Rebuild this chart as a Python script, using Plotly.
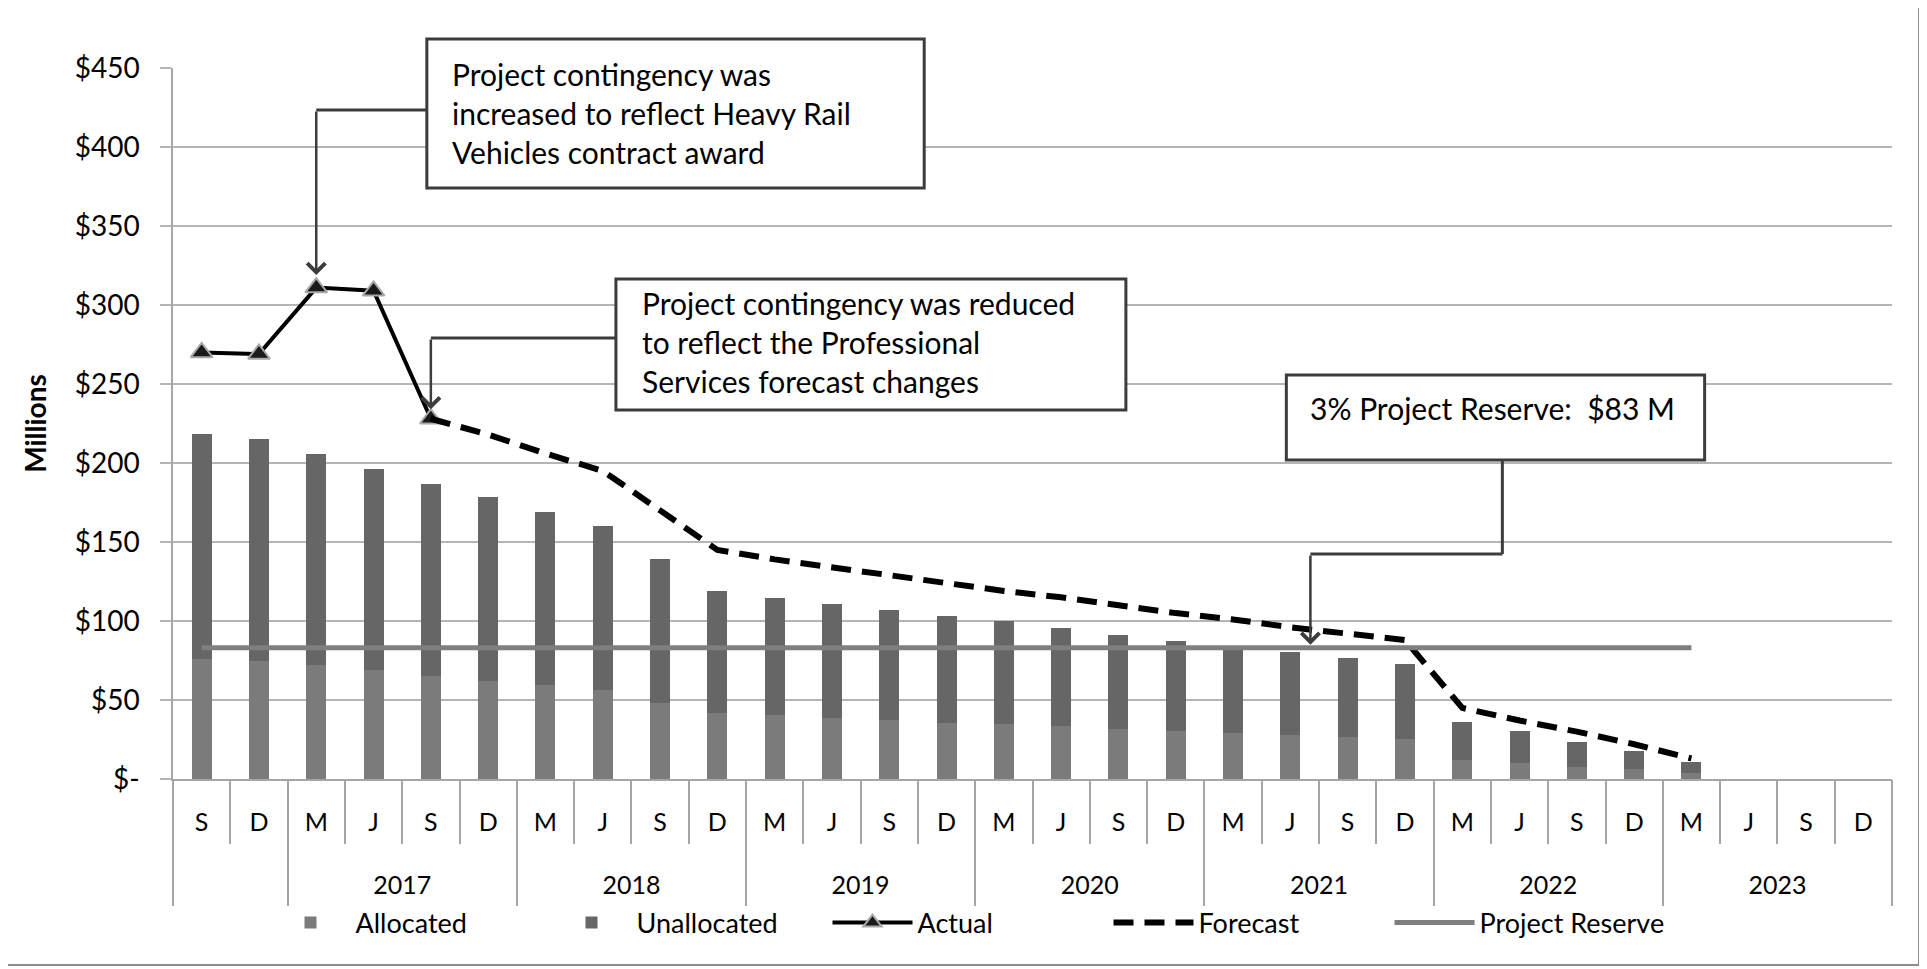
import plotly.graph_objects as go

# ---------------- data ----------------
months = ["S", "D",
          "M", "J", "S", "D",
          "M", "J", "S", "D",
          "M", "J", "S", "D",
          "M", "J", "S", "D",
          "M", "J", "S", "D",
          "M", "J", "S", "D",
          "M", "J", "S", "D"]
years = ["", "",
         "2017", "2017", "2017", "2017",
         "2018", "2018", "2018", "2018",
         "2019", "2019", "2019", "2019",
         "2020", "2020", "2020", "2020",
         "2021", "2021", "2021", "2021",
         "2022", "2022", "2022", "2022",
         "2023", "2023", "2023", "2023"]

allocated = [75.8, 74.8, 72.0, 69.1, 65.3, 62.1, 59.2, 56.2, 48.4, 41.5,
             40.4, 38.8, 37.3, 35.6, 34.5, 33.7, 31.6, 30.5, 28.9, 27.8,
             26.7, 25.1, 12.0, 9.9, 7.8, 6.1, 3.6]
unallocated = [142.6, 140.4, 133.5, 127.4, 121.5, 116.1, 110.1, 103.7, 90.8, 77.3,
               74.4, 72.2, 69.9, 67.6, 65.3, 61.7, 59.8, 57.1, 54.1, 52.4,
               50.0, 47.6, 24.2, 20.4, 15.8, 11.6, 7.1]
actual = [270, 269, 311, 309, 228]            # S, D, M, J, S (first five periods)
forecast = [228, 218, 206, 195, 170, 145, 139, 134, 129, 124, 119, 115,
            110, 105, 101, 96, 92, 88, 45, 37, 30, 22, 13]   # from 5th period on
reserve = [83, 83, 83, 83, 83, 83, 83, 83, 83, 83, 83, 83, 83, 83,
           83, 83, 83, 83, 83, 83, 83, 83, 83, 83, 83, 83, 83]

y_tickvals = [0, 50, 100, 150, 200, 250, 300, 350, 400, 450]
y_ticktext = ["$-", "$50", "$100", "$150", "$200", "$250", "$300", "$350", "$400", "$450"]

# ---------------- derived positions ----------------
n = len(months)
idx = list(range(n))
bar_x = idx[:len(allocated)]
actual_x = idx[:len(actual)]
fc_start = len(actual) - 1
forecast_x = idx[fc_start:fc_start + len(forecast)]
reserve_x = idx[:len(reserve)]

boundaries = [i - 0.5 for i in idx] + [n - 0.5]
year_names, year_centers = [], []
year_bounds = [-0.5]
for i in idx:
    if i > 0 and years[i] != years[i - 1]:
        year_bounds.append(i - 0.5)
year_bounds.append(n - 0.5)
for y in dict.fromkeys(years):
    if y:
        pos = [i for i in idx if years[i] == y]
        year_names.append(y)
        year_centers.append(sum(pos) / len(pos))

FONT = "Lato"
GRID = "#b5b5b5"
AX = "#a6a6a6"
CON = "#3c3c3c"

fig = go.Figure()
fig.add_trace(go.Bar(name="Allocated", x=bar_x, y=allocated,
                     marker=dict(color="#7b7b7b", line=dict(width=0))))
fig.add_trace(go.Bar(name="Unallocated", x=bar_x, y=unallocated,
                     marker=dict(color="#666666", line=dict(width=0))))
fig.add_trace(go.Scatter(name="Actual", x=actual_x, y=actual, mode="lines+markers",
                         xaxis="x2",
                         line=dict(color="black", width=4),
                         marker=dict(symbol="triangle-up", size=19, color="#1a1a1a",
                                     line=dict(color="#a8a8a8", width=2))))
fig.add_trace(go.Scatter(name="Forecast", x=forecast_x, y=forecast, mode="lines",
                         xaxis="x2",
                         line=dict(color="black", width=6, dash="20px,11px")))
fig.add_trace(go.Scatter(name="Project Reserve", x=reserve_x, y=reserve, mode="lines",
                         xaxis="x2",
                         line=dict(color="#7f7f7f", width=5)))

# page is offset by the default 8px body margin
OFF = 8
PAGE_W, PAGE_H = 1927, 969
PL, PR, PT, PB = 173, 1892, 68, 779          # plot box in page pixels
W, H = PAGE_W - OFF, PAGE_H - OFF
L, T = PL - OFF, PT - OFF
R, B = W - (PR - OFF), H - (PB - OFF)


def px2paper_x(px):
    return (px - PL) / (PR - PL)


def px2paper_y(py):
    return (PB - py) / (PB - PT)


shapes = []
# outer frame
shapes.append(dict(type="rect", xref="paper", yref="paper",
                   x0=px2paper_x(7), x1=px2paper_x(1919),
                   y0=px2paper_y(965), y1=px2paper_y(7),
                   line=dict(color="#8c8c8c", width=2), layer="below"))

boxes = [
    # (x0, x1, y0, y1) in data units
    (3.93, 12.61, 374.1, 468.4),
    (7.23, 16.13, 233.5, 316.5),
    (18.93, 26.23, 201.9, 255.7),
]
for (x0, x1, y0, y1) in boxes:
    shapes.append(dict(type="rect", xref="paper", yref="paper",
                       x0=(x0 + 0.5) / n, x1=(x1 + 0.5) / n, y0=y0 / 450, y1=y1 / 450,
                       line=dict(color=CON, width=3), fillcolor="white", layer="above"))

# connector segments
segs = [
    (3.93, 423.4, actual_x[2], 423.4),
    (7.23, 279.1, actual_x[4], 279.1),
    (22.7, 201.9, 22.7, 142.4),
    (22.7, 142.4, 19.35, 142.4),
]
for (x0, y0, x1, y1) in segs:
    shapes.append(dict(type="line", xref="x", yref="y", x0=x0, y0=y0, x1=x1, y1=y1,
                       line=dict(color=CON, width=3), layer="above"))

annotations = []
arrows = [
    (actual_x[2], actual[2] + 8, 423.4),
    (actual_x[4], actual[4] + 6, 279.1),
    (19.35, reserve[0] + 2, 142.4),
]
for (x, y, ay) in arrows:
    annotations.append(dict(x=x, y=y, ax=x, ay=ay, xref="x", yref="y", axref="x", ayref="y",
                            text="", showarrow=True, arrowhead=4, arrowsize=1.4,
                            arrowwidth=2.5, arrowcolor=CON, standoff=0))

texts = [
    (4.33, 421.5, "Project contingency was<br>increased to reflect Heavy Rail<br>Vehicles contract award"),
    (7.65, 276.6, "Project contingency was reduced<br>to reflect the Professional<br>Services forecast changes"),
    (19.31, 234.8, "3% Project Reserve:  $83 M"),
]
for (x, y, t) in texts:
    annotations.append(dict(x=(x + 0.5) / n, y=y / 450, xref="paper", yref="paper",
                            text=t, showarrow=False, xanchor="left", yanchor="middle",
                            align="left", font=dict(family=FONT, size=30, color="black")))

fig.update_layout(
    width=W, height=H,
    margin=dict(l=L, r=R, t=T, b=B, autoexpand=False),
    paper_bgcolor="white", plot_bgcolor="white",
    barmode="stack", bargap=0.65,
    font=dict(family=FONT, color="black"),
    shapes=shapes, annotations=annotations,
    legend=dict(orientation="h", xref="container", yref="container",
                x=(968 - OFF) / W, xanchor="center", y=1 - (923 - OFF) / H, yanchor="middle",
                traceorder="normal", entrywidth=186, entrywidthmode="pixels",
                font=dict(family=FONT, size=27, color="black"),
                itemwidth=80, bgcolor="rgba(0,0,0,0)"),
    xaxis=dict(range=[-0.5, n - 0.5], tickmode="array", tickvals=idx, ticktext=months,
               ticks="", showgrid=False, zeroline=False, automargin=False,
               showline=True, linecolor=AX, linewidth=1.5,
               tickfont=dict(family=FONT, size=25, color="black"),
               minor=dict(tickmode="array", tickvals=boundaries, ticks="outside",
                          ticklen=63, tickcolor=AX, tickwidth=1.5, showgrid=False),
               ticklabelstandoff=20),
    xaxis2=dict(overlaying="x", anchor="y", side="bottom", range=[-0.5, n - 0.5],
                tickmode="array", tickvals=year_centers, ticktext=year_names,
                ticks="", showgrid=False, zeroline=False, showline=False, automargin=False,
                tickfont=dict(family=FONT, size=25, color="black"),
                minor=dict(tickmode="array", tickvals=year_bounds, ticks="outside",
                           ticklen=126, tickcolor=AX, tickwidth=1.5, showgrid=False),
                ticklabelstandoff=89),
    yaxis=dict(range=[0, 450], tickmode="array", tickvals=y_tickvals, ticktext=y_ticktext,
               showgrid=True, gridcolor=GRID, gridwidth=1.5, zeroline=False,
               showline=True, linecolor=AX, linewidth=1.5, automargin=False,
               ticks="outside", ticklen=11, tickcolor=GRID, tickwidth=1.5,
               tickfont=dict(family=FONT, size=28, color="black"),
               ticklabelstandoff=15,
               title=dict(text="<b>Millions</b>", font=dict(family=FONT, size=28, color="black"),
                          standoff=20)),
)

fig.write_html("out.html")
